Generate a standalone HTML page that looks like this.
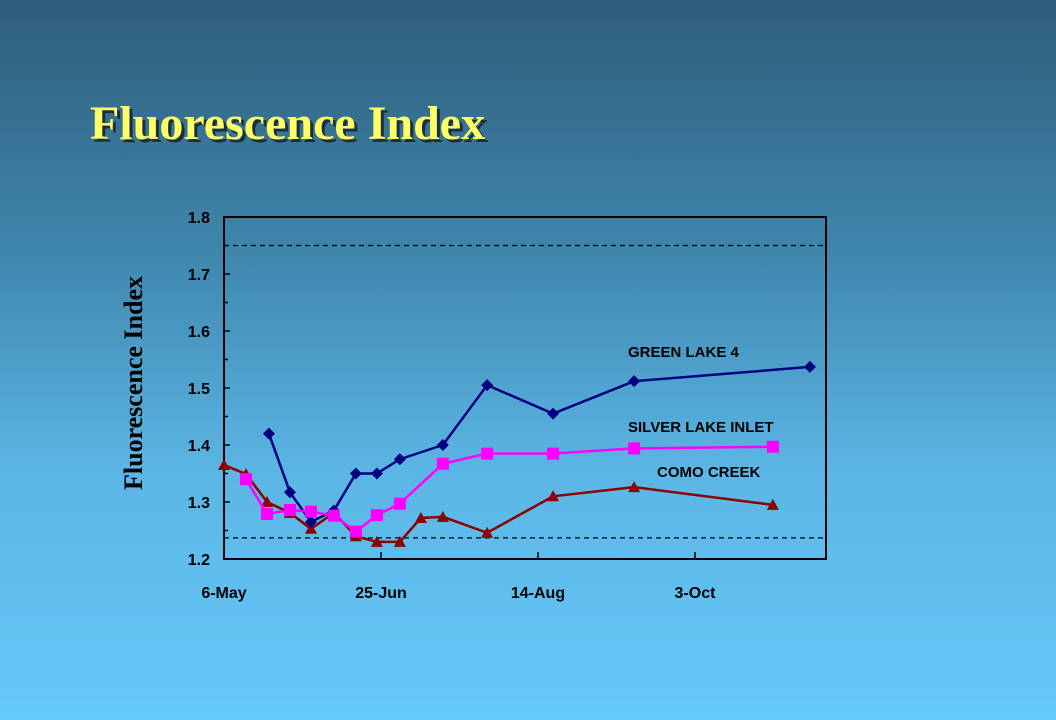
<!DOCTYPE html>
<html><head><meta charset="utf-8"><style>
html,body{margin:0;padding:0}
body{width:1056px;height:720px;overflow:hidden;background:linear-gradient(to bottom,#2e5e79 0%,#3f86ad 35%,#5bb5e4 65%,#66c9fb 100%);font-family:"Liberation Sans",sans-serif}
#title{position:absolute;left:90px;top:96px;font:bold 48px "Liberation Serif",serif;color:#ffff66;text-shadow:3px 3px 0 #1a2e3a;margin:0}
</style></head><body>
<h1 id="title">Fluorescence Index</h1>
<svg id="chart" width="1056" height="720" style="position:absolute;left:0;top:0"></svg>
<script>
const xTickLabels=["6-May","25-Jun","14-Aug","3-Oct"];
const xTickDays=[0,50,100,150];
const yTicks=[1.2,1.3,1.4,1.5,1.6,1.7,1.8];
const refLines=[1.75,1.237];
const greenDays=[14.3,21,27.7,35,42,48.7,56,69.7,83.8,104.8,130.6,186.6];
const greenVals=[1.42,1.317,1.265,1.285,1.35,1.35,1.375,1.40,1.505,1.455,1.512,1.537];
const silverDays=[7,13.7,21,27.7,35,42,48.7,56,69.7,83.8,104.8,130.6,174.8];
const silverVals=[1.34,1.279,1.286,1.283,1.276,1.248,1.277,1.297,1.367,1.385,1.385,1.394,1.397];
const comoDays=[0,7,13.7,21,27.7,35,42,48.7,56,62.7,69.7,83.8,104.8,130.6,174.8];
const comoVals=[1.365,1.349,1.30,1.281,1.253,1.281,1.24,1.23,1.23,1.272,1.274,1.246,1.31,1.326,1.295];

const NS="http://www.w3.org/2000/svg";
const svg=document.getElementById('chart');
const X0=224,X1=826,Y0=559,Y1=217;
const xs=d=>X0+d*3.14;
const ys=v=>Y0-(v-1.2)/0.6*(Y0-Y1);
function el(t,a,p){const e=document.createElementNS(NS,t);for(const k in a)e.setAttribute(k,a[k]);(p||svg).appendChild(e);return e;}

const frame=el('rect',{x:X0,y:Y1,width:X1-X0,height:Y0-Y1,fill:'none',stroke:'#000','stroke-width':2});



refLines.forEach(v=>{
  const l=el('line',{x1:X0,x2:X1,y1:ys(v),y2:ys(v),stroke:'#000','stroke-width':1.3,'stroke-dasharray':'5,4'});
  
  
});

for(let v=1.2;v<=1.8001;v+=0.05){
  const major=Math.abs(Math.round(v*10)-v*10)<0.01;
  el('line',{x1:X0,x2:X0+(major?6:4),y1:ys(v),y2:ys(v),stroke:'#000','stroke-width':1.5});
}
yTicks.forEach(v=>{
  const t=el('text',{x:X0-14,y:ys(v)+6,'text-anchor':'end','font-size':16,'font-weight':'bold',fill:'#000'});
  t.textContent=v.toFixed(1);
  
  
});
xTickDays.forEach((d,i)=>{
  el('line',{x1:xs(d),x2:xs(d),y1:Y0,y2:Y0-7,stroke:'#000','stroke-width':1.5});
  const t=el('text',{x:xs(d),y:Y0+39,'text-anchor':'middle','font-size':16,'font-weight':'bold',fill:'#000'});
  t.textContent=xTickLabels[i];
  
  
});
const yt=el('text',{x:0,y:0,transform:'translate(142,383) rotate(-90)','text-anchor':'middle','font-size':26,'font-weight':'bold','font-family':'Liberation Serif,serif',fill:'#000'});
yt.textContent='Fluorescence Index';



function series(days,vals,color,marker,name){
  const g=el('g',{});
  
  
  el('polyline',{points:days.map((d,i)=>xs(d)+','+ys(vals[i])).join(' '),fill:'none',stroke:color,'stroke-width':2.5},g);
  days.forEach((d,i)=>{
    const x=xs(d),y=ys(vals[i]);let m;
    if(marker==='diamond')m=el('polygon',{points:`${x},${y-6} ${x+6},${y} ${x},${y+6} ${x-6},${y}`,fill:color},g);
    else if(marker==='square')m=el('rect',{x:x-6,y:y-6,width:12,height:12,fill:color},g);
    else m=el('polygon',{points:`${x},${y-6} ${x+6},${y+5} ${x-6},${y+5}`,fill:color},g);
    
    
  });
}
series(comoDays,comoVals,'#8b0000','tri','como-creek-series');
series(greenDays,greenVals,'#000080','diamond','green-lake-4-series');
series(silverDays,silverVals,'#ff00ff','square','silver-lake-inlet-series');

[['GREEN LAKE 4',628,357],['SILVER LAKE INLET',628,432],['COMO CREEK',657,477]].forEach(([s,x,y])=>{
  const t=el('text',{x:x,y:y,'font-size':15,'font-weight':'bold',fill:'#000'});
  t.textContent=s;
  
  
});
</script>
</body></html>
